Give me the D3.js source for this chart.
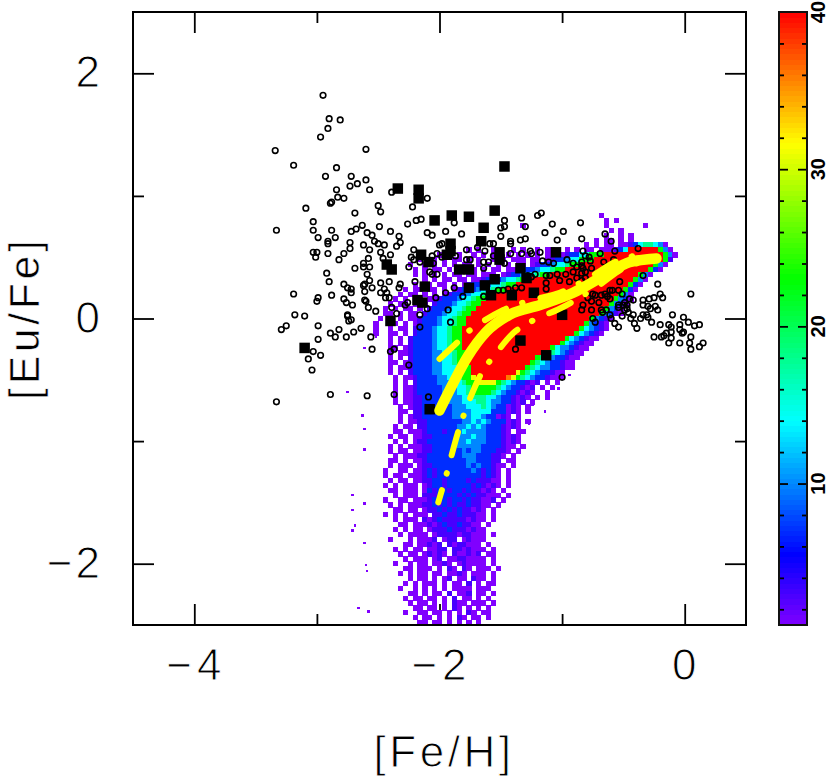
<!DOCTYPE html>
<html>
<head>
<meta charset="utf-8">
<title>[Eu/Fe] vs [Fe/H]</title>
<script src="https://d3js.org/d3.v7.min.js"></script>
<style>
  body { margin: 0; background: #fff; }
  svg { display: block; }
  text { font-family: "Liberation Sans", Arial, sans-serif; fill: #000; }
</style>
</head>
<body>
<svg id="chart" width="830" height="779"></svg>
<script>
// Tick values
const xMajorTicks = [-4, -2, 0];
const xMinorTicks = [-3, -1];
const yMajorTicks = [-2, 0, 2];
const yMinorTicks = [-1, 1];
const colorMajorTicks = [10, 20, 30, 40];
const colorMinorTicks = [2, 4, 6, 8, 12, 14, 16, 18, 22, 24, 26, 28, 32, 34, 36, 38];

// Rainbow stops of the color bar
const colorStops = [1, 5.5, 14, 23, 31.6, 40];
const colorNames = ["#8000ff", "#0000ff", "#00ffff", "#00ff00", "#ffff00", "#ff0000"];

// Counts standing behind the characters of the density rows
const levelCounts = { 1: 1, 2: 3, 3: 7, 4: 10, 5: 14, 6: 18, 7: 23, 8: 31, 9: 36, r: 40 };

// Density rows from [Eu/Fe] = 0.86 downward in 0.04 dex steps. "col:cells", col counts from [Fe/H] = -2.9
const heatRows = [
  "55:1",
  "56:1.1",
  "39:1................1.......1",
  "57:1.1",
  "56:1..1.1",
  "54:1.11.1.1",
  "52:1.1.11.1123566541",
  "24:1...1.1..1...1.1..1.11..1.1.11.111235rrrrrr741",
  "22:1.1.1..1.1.1..1.1.1.1.11.123355777rrrrrrrrrrrr741",
  "18:1..1.1.11.1.1..1.1.111.11.1233455777rrrrrrrrrrrrrr72",
  "16:1..1.1.1.1.11.1.1.1.1.11.1233455677rrrrrrrrrrrrrrr741",
  "17:1.1.11.1.1.11.1.11.11.233455677rrrrrrrrrrrrrrrrr731",
  "17:1.1.1.1.11.11.111.1233455677rrrrrrrrrrrrrrrrrr741",
  "19:1.1.11.11.112333455677rrrrrrrrrrrrrrrrrrrrr741",
  "17:1.11.11.1.12333455677rrrrrrrrrrrrrrrrrrrrrrr731",
  "15:1.11.11.1.12333455677rrrrrrrrrrrrrrrrrrrrrrrr731",
  "14:1.11.1.1.12333455677rrrrrrrrrrrrrrrrrrrrrrrrr741",
  "13:1.1.11.112333455677rrrrrrrrrrrrrrrrrrrrrrrrrr7431",
  "12:1.11.1.1.2333455677rrrrrrrrrrrrrrrrrrrrrrrrrr7431",
  "11:1.1.11.1.2333455677rrrrrrrrrrrrrrrrrrrrrrrrrr7431",
  "11:11.1.11.2333455677rrrrrrrrrrrrrrrrrrrrrrrrrr74321",
  "10:1.1.1.112333455677rrrrrrrrrrrrrrrrrrrrrrrrr74321",
  "9:1..11.1.12333455677rrrrrrrrrrrrrrrrrrrrrrrr74321",
  "9:1..1.11.2333455677rrrrrrrrrrrrrrrrrrrrrrrr754321",
  "9:1..11.1.2333455677rrrrrrrrrrrrrrrrrrrrrrr754321",
  "12:1.1.23333455677rrrrrrrrrrrrrrrrrrrrr7543211",
  "12:1.1.23333455677rrrrrrrrrrrrrrrrrrrr7543211",
  "12:11.123333455677rrrrrrrrrrrrrrrrrr75443211",
  "12:1.11233334455677rrrrrrrrrrrrrrrr76543211",
  "12:1.1.233334455677rrrrrrrrrrrrrr765433211",
  "12:11.1233334455677rrrrrrrrrrrrr765433211",
  "12:1.112333344555677rrrrrrrrrrr7654433211",
  "12:1.1.2333344555677rrrrrrrrr8765433211",
  "13:1.112333344556778rrrrrr987654332111",
  "13:1.1.23333444556778888765433212.1.1",
  "13:1.112333334445567777765433212.1.1",
  "13:1.1123333344455677776543321 21..1",
  "13:1.112233333444556665543321 21.1.1",
  "13:1.1122333334445556654433212.1.",
  "14:1.12233333344455565433121.1",
  "14:11.223333334444555533 3121.1",
  "14:1.1223333334444554 33121.1",
  "14:1.11223333333445454333121.1",
  "13:1.11.223333334454543332121",
  "13:11.111233323345444433321.11",
  "12:1.11.1122333334445443332121",
  "13:1.1.1223333334454443332121",
  "12:1.1.1112233333444443333211.1",
  "12:1.11.11223333334344333221.1",
  "13:1.1112233333334443332 21.1",
  "12:11.1.112333333334433322.11",
  "12:1.111.122333333343 433211.1",
  "11:1..11.112323333333432321.1",
  "11:1.11.1112323333333332321.1",
  "12:1.11.112233233332322211.1",
  "11:1.1.111.1233233333232121.1",
  "12:11.111.132332332322121.1",
  "13:1.111.2223333232322111.1",
  "11:1..11.11123232332322112.1",
  "12:1.1.11122323232232211.1",
  "13:11.11.1223232322121.1",
  "11:1.1.1.111.22322322211.1",
  "13:1.111.2123222221211.1",
  "14:11.11121232232211.1",
  "13:1.1.11.122232221211.",
  "14:1.1111.12222122111.1",
  "12:1...1.1112.122.12111",
  "15:11.11212.2122111.1",
  "13:1.1.11.1122.2212111.1",
  "14:1.11.12121.211212.11",
  "15:1.111.12.11221111.1",
  "13:1..1.11.1121.121111.1",
  "15:11.111.1.21.21.111.1",
  "14:1.1.11.11.1121.111.1",
  "16:1.11.1.12.11.211.1",
  "15:1.1.111.1.11.2.1.11",
  "14:1..1.1.1.1.1111.111",
  "16:11.1.11.2.112.11.1",
  "15:1.11.11.1.2.11.1.1",
  "16:1.11.1.1.211.111.1",
  "17:11.11.1.21.1.1.1",
  "15:1..11.11.1.1.21.11",
  "17:1.11.1.1.21.11.1",
  "17:.11.11.1.1.1.1"
].map(row => row.replace(/ /g, ""));

// Lone density cells away from the main cloud, [Fe/H], [Eu/Fe]
const strayCells = [
  [-2.76, -0.59], [-2.64, -0.78], [-2.62, -0.89], [-2.62, -1.06], [-2.72, -1.43], [-2.72, -1.55],
  [-2.70, -1.68], [-2.72, -1.72], [-2.62, -1.50], [-2.62, -1.82], [-2.61, -2.00], [-2.60, -2.05],
  [-2.67, -2.35], [-2.59, -2.38], [-2.53, -0.14], [-2.53, -0.06], [-2.62, -0.23], [-1.28, -0.85],
  [-1.04, -0.56], [-1.25, -0.69], [-1.15, -0.75], [-0.95, -0.45]
];

// Open circles, [Fe/H], [Eu/Fe]
const openCircles = [
  [-2.95, 1.82], [-2.90, 1.63], [-2.81, 1.62], [-2.91, 1.55], [-2.97, 1.48], [-3.34, 1.37], [-2.60, 1.38], [-3.19, 1.25],
  [-2.84, 1.23], [-2.93, 1.16], [-2.72, 1.16], [-2.60, 1.13], [-2.67, 1.10], [-2.73, 1.08], [-2.57, 1.05], [-2.84, 1.05],
  [-2.39, 1.03], [-2.83, 0.99], [-2.78, 0.98], [-2.88, 0.95], [-2.89, 0.94], [-3.09, 0.90], [-2.50, 0.92], [-2.48, 0.87],
  [-2.69, 0.86], [-2.10, 0.98], [-2.22, 0.91], [-3.03, 0.79], [-3.33, 0.72], [-3.03, 0.72], [-2.88, 0.72], [-2.99, 0.66],
  [-2.85, 0.66], [-2.91, 0.63], [-2.91, 0.61], [-2.63, 0.76], [-2.68, 0.73], [-2.72, 0.71], [-2.49, 0.75], [-2.59, 0.70],
  [-2.55, 0.68], [-2.40, 0.71], [-2.26, 0.77], [-2.19, 0.80], [-2.15, 0.81], [-2.10, 0.70], [-2.06, 0.68], [-2.33, 0.67],
  [-2.53, 0.63], [-2.50, 0.61], [-2.45, 0.60], [-2.32, 0.62], [-2.35, 0.59], [-2.73, 0.62], [-2.73, 0.57], [-2.62, 0.60],
  [-2.57, 0.56], [-2.48, 0.54], [-2.78, 0.53], [-2.91, 0.53], [-3.03, 0.54], [-3.00, 0.54], [-3.01, 0.50], [-2.40, 0.52],
  [-2.58, 0.49], [-2.46, 0.49], [-2.21, 0.56], [-2.23, 0.50], [-2.06, 0.51], [-2.00, 0.60], [-2.82, 0.48],
  [-2.62, 0.45], [-2.62, 0.42], [-2.69, 0.41], [-2.57, 0.42], [-2.92, 0.37], [-2.59, 0.36], [-2.57, 0.31], [-2.90, 0.30],
  [-2.78, 0.28], [-2.75, 0.25], [-2.72, 0.24], [-2.72, 0.21], [-2.62, 0.27], [-2.61, 0.28], [-2.61, 0.22], [-2.55, 0.25],
  [-2.48, 0.29], [-2.41, 0.30], [-2.48, 0.21], [-2.45, 0.24], [-2.43, 0.21], [-2.44, 0.17], [-2.41, 0.17], [-2.32, 0.28],
  [-2.33, 0.25], [-2.20, 0.30], [-3.19, 0.20], [-2.99, 0.17], [-3.00, 0.14], [-2.88, 0.19], [-2.78, 0.16], [-2.76, 0.13],
  [-2.71, 0.11], [-2.61, 0.15], [-2.60, 0.14], [-2.58, 0.09], [-2.52, 0.06], [-2.39, 0.09], [-2.35, 0.04], [-2.26, 0.13],
  [-2.28, 0.11], [-2.10, 0.08], [-2.16, 0.03], [-2.16, -0.07], [-3.18, 0.03], [-3.10, 0.02], [-2.75, 0.03], [-2.75, 0.02],
  [-2.72, -0.01], [-2.74, -0.02], [-2.99, -0.06], [-3.25, -0.06], [-3.29, -0.09], [-2.82, -0.09], [-2.89, -0.12], [-2.85, -0.15],
  [-2.76, -0.15], [-2.70, -0.11], [-2.64, -0.08], [-2.56, -0.15], [-2.99, -0.17], [-2.55, -0.25], [-2.40, -0.27], [-2.37, -0.25],
  [-3.03, -0.27], [-2.97, -0.30], [-3.07, -0.33], [-3.04, -0.42], [-2.25, -0.38], [-2.89, -0.62], [-2.59, -0.63], [-2.37, -0.62],
  [-2.09, -0.64], [-3.33, -0.68],
  [-1.95, 0.71], [-1.82, 0.69], [-1.88, 0.78], [-1.50, 0.74], [-1.47, 0.80], [-1.47, 0.75], [-1.33, 0.82], [-1.30, 0.75],
  [-1.20, 0.84], [-1.17, 0.86], [-1.08, 0.77], [-0.85, 0.78], [-1.14, 0.70], [-0.99, 0.71], [-0.65, 0.69], [-1.04, 0.64],
  [-1.50, 0.67], [-1.42, 0.63], [-1.42, 0.61], [-1.34, 0.64], [-1.30, 0.65], [-1.98, 0.61], [-1.56, 0.61], [-1.59, 0.61],
  [-1.63, 0.55], [-1.69, 0.58], [-1.78, 0.56], [-2.21, 0.48], [-2.16, 0.46], [-2.25, 0.42], [-2.02, 0.53], [-2.05, 0.45],
  [-1.98, 0.50], [-2.08, 0.38], [-2.02, 0.36], [-2.06, 0.36], [-1.78, 0.48], [-1.75, 0.48], [-1.87, 0.51], [-1.64, 0.46],
  [-1.60, 0.46], [-1.64, 0.41], [-1.56, 0.51], [-1.42, 0.53], [-1.47, 0.45], [-1.33, 0.53], [-1.26, 0.55], [-1.25, 0.53],
  [-1.18, 0.54], [-1.16, 0.47], [-1.11, 0.46], [-1.07, 0.45], [-0.96, 0.48], [-0.91, 0.45], [-0.83, 0.55], [-0.78, 0.50],
  [-0.81, 0.51], [-0.69, 0.53], [-0.57, 0.55], [-0.66, 0.46], [-0.58, 0.48], [-0.57, 0.44], [-0.64, 0.41], [-0.38, 0.57],
  [-0.60, 0.63], [-0.84, 0.46], [-0.83, 0.41], [-0.88, 0.42], [-0.91, 0.38], [-0.84, 0.37], [-0.81, 0.38], [-0.94, 0.30],
  [-0.88, 0.33], [-0.84, 0.31], [-0.81, 0.33], [-1.13, 0.35], [-1.10, 0.35], [-1.04, 0.36], [-0.97, 0.36], [-1.02, 0.31],
  [-1.13, 0.29], [-1.13, 0.24], [-1.25, 0.34], [-1.22, 0.36], [-1.28, 0.35], [-1.33, 0.25], [-1.38, 0.25], [-1.44, 0.24],
  [-1.48, 0.23], [-1.52, 0.23], [-1.64, 0.18], [-1.81, 0.18], [-1.88, 0.25], [-1.95, 0.21], [-2.03, 0.17], [-1.93, 0.07],
  [-1.91, -0.03], [-1.38, -0.25], [-1.00, -0.48], [-0.84, 0.65], [-0.84, 0.43], [-0.77, 0.47], [-0.76, 0.41],
  [-0.34, 0.35], [-0.22, 0.28], [-0.53, 0.30], [-0.20, 0.20], [-0.18, 0.17], [-0.25, 0.17], [0.05, 0.20], [-0.79, 0.17],
  [-0.76, 0.14], [-0.70, 0.13], [-0.75, 0.20], [-0.73, 0.19], [-0.68, 0.19], [-0.65, 0.20], [-0.61, 0.23], [-0.59, 0.23],
  [-0.54, 0.23], [-0.51, 0.20], [-0.61, 0.16], [-0.63, 0.18], [-0.45, 0.16], [-0.42, 0.15], [-0.49, 0.13], [-0.54, 0.11],
  [-0.54, 0.09], [-0.50, 0.11], [-0.47, 0.11], [-0.47, 0.08], [-0.49, 0.07], [-0.51, 0.02], [-0.46, 0.05], [-0.42, 0.03],
  [-0.83, 0.11], [-0.84, 0.07], [-0.76, 0.07], [-0.68, 0.07], [-0.64, 0.07], [-0.67, 0.05], [-0.61, 0.03], [-0.60, 0.00],
  [-0.57, -0.04], [-0.54, -0.07], [-0.75, 0.00], [-0.73, -0.03], [-0.44, 0.00], [-0.41, -0.04], [-0.39, -0.08], [-0.36, 0.00],
  [-0.34, 0.03], [-0.31, 0.03], [-0.30, 0.01], [-0.27, -0.03], [-0.34, 0.15], [-0.29, 0.16], [-0.34, 0.11], [-0.30, 0.10],
  [-0.28, 0.08], [-0.24, 0.10], [-0.22, 0.07], [-0.20, -0.05], [-0.10, 0.03], [-0.01, 0.01], [0.03, -0.03], [0.08, -0.06],
  [0.12, -0.05], [-0.13, -0.05], [-0.11, -0.07], [-0.04, -0.05], [-0.04, -0.09], [-0.01, -0.11], [-0.02, -0.12], [0.05, -0.15],
  [-0.15, -0.12], [-0.11, -0.11], [-0.17, -0.14], [-0.25, -0.15], [-0.19, -0.15], [-0.11, -0.16], [-0.13, -0.20], [-0.04, -0.20],
  [0.04, -0.20], [0.05, -0.25], [0.12, -0.23], [0.15, -0.20]
];

// Filled squares, [Fe/H], [Eu/Fe]
const filledSquares = [
  [-1.47, 1.24], [-2.34, 1.06], [-2.17, 1.05], [-2.17, 0.98], [-2.04, 0.80], [-1.90, 0.84], [-1.76, 0.83], [-1.55, 0.88],
  [-1.64, 0.74], [-1.66, 0.63], [-1.91, 0.61], [-1.94, 0.52], [-1.91, 0.55], [-2.15, 0.52], [-2.09, 0.46], [-2.43, 0.44],
  [-2.39, 0.40], [-1.84, 0.40], [-1.76, 0.40], [-1.51, 0.54], [-1.51, 0.48], [-1.34, 0.41], [-1.29, 0.33], [-1.05, 0.54],
  [-1.55, 0.32], [-1.63, 0.27], [-2.12, 0.26], [-1.76, 0.25], [-1.58, 0.19], [-1.41, 0.19], [-1.23, 0.21], [-2.18, 0.15],
  [-2.14, 0.13], [-2.40, -0.02], [-1.00, 0.03], [-1.34, -0.18], [-1.13, -0.30], [-2.08, -0.74], [-3.10, -0.24]
];

// Yellow model curves, [Fe/H], [Eu/Fe]
const solidCurve = [
  [-2.00, -0.75], [-1.89, -0.53], [-1.77, -0.31], [-1.62, -0.11], [-1.43, 0.03], [-1.18, 0.11], [-0.91, 0.21], [-0.64, 0.36],
  [-0.45, 0.46], [-0.23, 0.49]
];
const lowerDashCurve = [
  [-2.01, -1.50], [-1.94, -1.26], [-1.85, -0.93], [-1.75, -0.65], [-1.68, -0.49], [-1.52, -0.26], [-1.40, -0.12], [-1.28, -0.04],
  [-0.98, 0.10], [-0.70, 0.27], [-0.50, 0.41], [-0.30, 0.47]
];
const upperDashCurve = [
  [-2.00, -0.33], [-1.86, -0.20], [-1.77, -0.11], [-1.64, -0.02], [-1.48, 0.07], [-1.21, 0.16], [-1.02, 0.21], [-0.80, 0.32],
  [-0.55, 0.47], [-0.30, 0.53]
];

const svg = d3.select("#chart");

// Scales of the main panel and the color bar
const x = d3.scaleLinear().domain([-4.5, 0.5]).range([133, 746]);
const y = d3.scaleLinear().domain([-2.5, 2.5]).range([625, 12]);
const barY = d3.scaleLinear().domain([1, 40]).range([625, 12]);
const color = d3.scaleLinear().domain(colorStops).range(colorNames);

const minus = t => String(t).replace("-", "\u2212");

// Draw one side of the frame ticks, inward
function sideTicks(axisFn, scale, values, size, at) {
  const g = svg.append("g")
    .attr("transform", at)
    .call(axisFn(scale).tickValues(values).tickSize(size).tickFormat(""));
  g.selectAll("path").remove();
  g.selectAll("line").attr("stroke", "#000").attr("stroke-width", 1.8);
}

sideTicks(d3.axisBottom, x, xMajorTicks, -21, "translate(0,625)");
sideTicks(d3.axisBottom, x, xMinorTicks, -11, "translate(0,625)");
sideTicks(d3.axisTop, x, xMajorTicks, -21, "translate(0,12)");
sideTicks(d3.axisTop, x, xMinorTicks, -11, "translate(0,12)");
sideTicks(d3.axisLeft, y, yMajorTicks, -21, "translate(133,0)");
sideTicks(d3.axisLeft, y, yMinorTicks, -11, "translate(133,0)");
sideTicks(d3.axisRight, y, yMajorTicks, -21, "translate(746,0)");
sideTicks(d3.axisRight, y, yMinorTicks, -11, "translate(746,0)");

// Density cells
const cellFeh = 0.04;
const heatCells = [];
heatRows.forEach((row, r) => {
  const [col, cells] = row.split(":");
  Array.from(cells).forEach((ch, i) => {
    if (ch !== ".") {
      heatCells.push({ feh: -2.9 + (+col + i) * cellFeh, eu: 0.86 - r * cellFeh, count: levelCounts[ch] });
    }
  });
});

svg.append("g").attr("shape-rendering", "crispEdges")
  .selectAll("rect").data(heatCells).join("rect")
  .attr("x", d => x(d.feh))
  .attr("y", d => y(d.eu))
  .attr("width", x(cellFeh) - x(0) + 0.3)
  .attr("height", y(0) - y(cellFeh) + 0.3)
  .attr("fill", d => color(d.count));

svg.append("g").attr("shape-rendering", "crispEdges")
  .selectAll("rect").data(strayCells).join("rect")
  .attr("x", d => x(d[0]))
  .attr("y", d => y(d[1]))
  .attr("width", 2.5)
  .attr("height", 2.5)
  .attr("fill", color(1));

// Frame on top of the cells
svg.append("rect")
  .attr("x", x(-4.5)).attr("y", y(2.5))
  .attr("width", x(0.5) - x(-4.5)).attr("height", y(-2.5) - y(2.5))
  .attr("fill", "none").attr("stroke", "#000").attr("stroke-width", 2);

// Open circles
svg.append("g").selectAll("circle").data(openCircles).join("circle")
  .attr("cx", d => x(d[0]))
  .attr("cy", d => y(d[1]))
  .attr("r", 2.8)
  .attr("fill", "none")
  .attr("stroke", "#000")
  .attr("stroke-width", 1.6);

// Filled squares
const squareSize = 10.5;
svg.append("g").selectAll("rect").data(filledSquares).join("rect")
  .attr("x", d => x(d[0]) - squareSize / 2)
  .attr("y", d => y(d[1]) - squareSize / 2)
  .attr("width", squareSize)
  .attr("height", squareSize)
  .attr("fill", "#000");

// Yellow curves
const curveLine = d3.line().x(d => x(d[0])).y(d => y(d[1])).curve(d3.curveMonotoneX);
svg.append("path").datum(solidCurve)
  .attr("d", curveLine).attr("fill", "none").attr("stroke", "#ffff00")
  .attr("stroke-width", 10.5).attr("stroke-linecap", "round");
svg.append("path").datum(lowerDashCurve)
  .attr("d", curveLine).attr("fill", "none").attr("stroke", "#ffff00")
  .attr("stroke-width", 6).attr("stroke-linecap", "round")
  .attr("stroke-dasharray", "24 17 0.5 18.5").attr("stroke-dashoffset", 11);
svg.append("path").datum(upperDashCurve)
  .attr("d", curveLine).attr("fill", "none").attr("stroke", "#ffff00")
  .attr("stroke-width", 6).attr("stroke-linecap", "round")
  .attr("stroke-dasharray", "24 17 0.5 18.5");

// Big thin labels: a white outline over the glyph slims the Liberation strokes
function thinText(sel, size, slim) {
  sel.attr("font-size", size)
    .attr("stroke", "#fff")
    .attr("stroke-width", slim);
}

svg.append("g").selectAll("text").data(xMajorTicks).join("text")
  .attr("x", d => x(d) + 2)
  .attr("y", 680)
  .attr("text-anchor", "middle")
  .attr("letter-spacing", 5)
  .text(minus)
  .call(thinText, 44, 1);

svg.append("g").selectAll("text").data(yMajorTicks).join("text")
  .attr("x", 103)
  .attr("y", d => y(d) + 14)
  .attr("text-anchor", "end")
  .attr("letter-spacing", 3)
  .text(minus)
  .call(thinText, 44, 1);

svg.append("text")
  .attr("x", 444).attr("y", 767)
  .attr("text-anchor", "middle")
  .attr("letter-spacing", 3.5)
  .text("[Fe/H]")
  .call(thinText, 44, 1);

svg.append("text")
  .attr("transform", "translate(38.5,318) rotate(-90)")
  .attr("text-anchor", "middle")
  .attr("letter-spacing", 4)
  .text("[Eu/Fe]")
  .call(thinText, 42, 0.6);

// Color bar built from steps of the count scale
const barSteps = d3.range(1, 40, 1 / 3);
svg.append("g").attr("shape-rendering", "crispEdges")
  .selectAll("rect").data(barSteps).join("rect")
  .attr("x", 779)
  .attr("y", d => barY(d + 1 / 3))
  .attr("width", 28)
  .attr("height", barY(1) - barY(4 / 3) + 0.5)
  .attr("fill", d => color(d + 1 / 6));

function barTicks(values, size) {
  [[d3.axisRight, 779], [d3.axisLeft, 807]].forEach(([axisFn, at]) => {
    const g = svg.append("g")
      .attr("transform", `translate(${at},0)`)
      .call(axisFn(barY).tickValues(values).tickSize(size).tickFormat(""));
    g.selectAll("path").remove();
    g.selectAll("line").attr("stroke", "#000").attr("stroke-width", 1.8);
  });
}
barTicks(colorMinorTicks, 5);
barTicks(colorMajorTicks.slice(0, 3), 9);

svg.append("rect")
  .attr("x", 779).attr("y", 12).attr("width", 28).attr("height", 613)
  .attr("fill", "none").attr("stroke", "#111").attr("stroke-width", 2);

svg.append("g").selectAll("text").data(colorMajorTicks).join("text")
  .attr("transform", d => `translate(825,${barY(d)}) rotate(-90)`)
  .attr("text-anchor", "middle")
  .attr("font-size", 20)
  .attr("font-weight", "bold")
  .text(d => d);
</script>
</body>
</html>
